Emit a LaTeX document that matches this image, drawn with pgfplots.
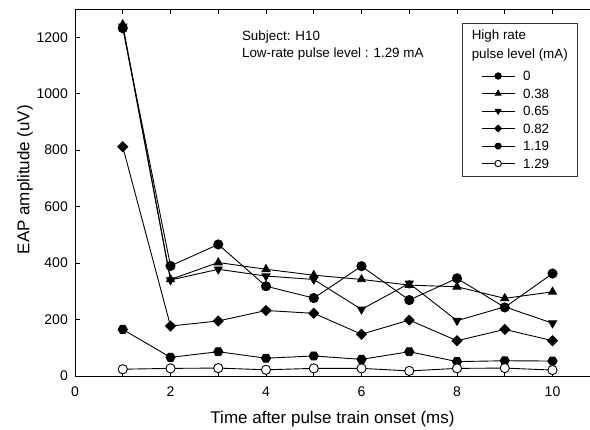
\documentclass[border=0pt]{standalone}
\usepackage{pgfplots}
\pgfplotsset{compat=1.18}
\usepackage{fontspec}
\setmainfont{Liberation Sans}

% filled hexagon marker
\pgfdeclareplotmark{hexagon*}{%
  \pgfpathmoveto{\pgfqpointpolar{0}{\pgfplotmarksize}}%
  \pgfpathlineto{\pgfqpointpolar{60}{\pgfplotmarksize}}%
  \pgfpathlineto{\pgfqpointpolar{120}{\pgfplotmarksize}}%
  \pgfpathlineto{\pgfqpointpolar{180}{\pgfplotmarksize}}%
  \pgfpathlineto{\pgfqpointpolar{240}{\pgfplotmarksize}}%
  \pgfpathlineto{\pgfqpointpolar{300}{\pgfplotmarksize}}%
  \pgfpathclose
  \pgfusepathqfillstroke
}

\begin{document}
\begin{tikzpicture}
\begin{axis}[
  scale only axis,
  width=515pt, height=367pt,
  xmin=0, xmax=10.785,
  ymin=0, ymax=1300,
  axis x line*=box,
  axis y line*=left,
  axis line style={line width=0.8pt},
  xtick={0,2,...,10},
  minor xtick={1,3,...,9},
  ytick={0,200,...,1200},
  tick align=inside,
  major tick length=5pt,
  minor tick length=5pt,
  tick style={line width=0.8pt, black},
  /pgf/number format/assume math mode=true,
  /pgf/number format/1000 sep={},
  ticklabel style={font=\fontsize{14}{16}\selectfont, inner sep=0pt},
  xticklabel style={anchor=base, yshift=-20.7pt},
  yticklabel style={anchor=east, xshift=-7pt},
  xlabel={Time after pulse train onset (ms)},
  ylabel={EAP amplitude (uV)},
  label style={font=\fontsize{17}{20}\selectfont, inner sep=0pt},
  xlabel style={at={(axis description cs:0.5,-0.1308)}, anchor=base},
  ylabel style={at={(axis description cs:-0.0971,0.535)}, anchor=center},
  every axis plot/.append style={line width=0.9pt, black},
  legend image code/.code={%
    \draw[mark repeat=2,mark phase=2,#1]
      plot coordinates {(0pt,0pt) (16.5pt,0pt) (33pt,0pt)};},
  legend image post style={every mark/.append style={scale=0.7}},
  legend cell align=left,
  legend style={
    at={(axis description cs:0.7883,0.831)}, anchor=north west,
    draw=none, fill=none, inner sep=0pt,
    font=\fontsize{13.4}{15}\selectfont,
    nodes={inner sep=0pt, text height=9.6pt, text depth=0pt},
    row sep=7.9pt,
    /tikz/every odd column/.append style={column sep=8pt},
  },
]
\coordinate (sw) at (rel axis cs:0,0);
\coordinate (ne) at (rel axis cs:1,1);

% high rate pulse level 0 mA
\addplot[mark=*, mark size=4.6pt, mark options={fill=black}] coordinates {
  (1,1232) (2,390) (3,466) (4,318) (5,276) (6,389) (7,269) (8,346) (9,243) (10,363)};
\addlegendentry{0}
% 0.38 mA
\addplot[mark=triangle*, mark size=4.6pt, mark options={fill=black}] coordinates {
  (1,1245) (2,342) (3,402) (4,378) (5,357) (6,342) (7,322) (8,316) (9,275) (10,298)};
\addlegendentry{0.38}
% 0.65 mA
\addplot[mark=triangle*, mark size=4.6pt, mark options={fill=black, rotate=180}] coordinates {
  (1,1238) (2,340) (3,378) (4,354) (5,342) (6,236) (7,328) (8,196) (9,245) (10,187)};
\addlegendentry{0.65}
% 0.82 mA
\addplot[mark=square*, mark size=3.5pt, mark options={fill=black, rotate=45}] coordinates {
  (1,812) (2,177) (3,195) (4,232) (5,222) (6,148) (7,198) (8,125) (9,165) (10,125)};
\addlegendentry{0.82}
% 1.19 mA
\addplot[mark=hexagon*, mark size=4.6pt, mark options={fill=black}] coordinates {
  (1,165) (2,66) (3,86) (4,63) (5,71) (6,59) (7,86) (8,51) (9,54) (10,53)};
\addlegendentry{1.19}
% 1.29 mA
\addplot[mark=*, mark size=4.6pt, mark options={fill=white}] coordinates {
  (1,24) (2,27) (3,28) (4,22) (5,27) (6,27) (7,18) (8,27) (9,28) (10,21)};
\addlegendentry{1.29}

% annotation
\node[anchor=base west, inner sep=0pt, font=\fontsize{13.4}{15}\selectfont]
  at (axis description cs:0.324,0.913) {Subject: H10};
\node[anchor=base west, inner sep=0pt, font=\fontsize{13.4}{15}\selectfont]
  at (axis description cs:0.324,0.867) {Low-rate pulse level : 1.29 mA};

% legend frame and title
\draw[line width=0.9pt, black!80] (axis description cs:0.753,0.545) rectangle (axis description cs:0.976,0.961);
\node[anchor=base west, inner sep=0pt, font=\fontsize{13.4}{15}\selectfont]
  at (axis description cs:0.770,0.916) {High rate};
\node[anchor=base west, inner sep=0pt, font=\fontsize{13.4}{15}\selectfont]
  at (axis description cs:0.770,0.865) {pulse level (mA)};
\end{axis}
\pgfresetboundingbox
\path[use as bounding box] ([xshift=-75pt,yshift=-54pt]sw) rectangle ([yshift=9pt]ne);
\end{tikzpicture}
\end{document}
